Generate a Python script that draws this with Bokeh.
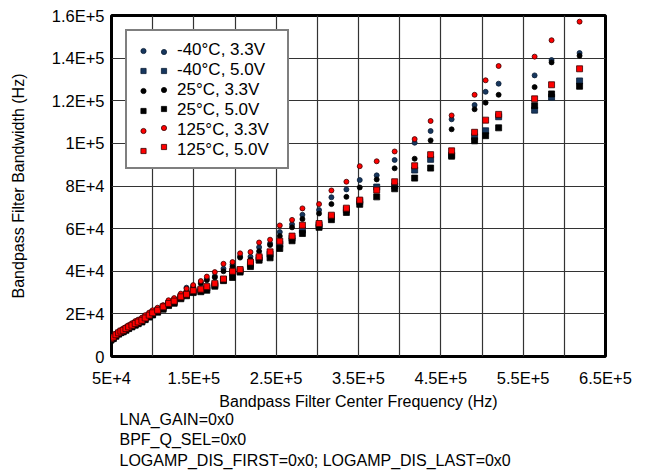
from bokeh.plotting import figure
from bokeh.models import Range1d, FixedTicker, Legend, LegendItem, Title, ColumnDataSource
from bokeh.embed import file_html
from bokeh.resources import INLINE

# ---------------- data (kHz) ----------------
freq_khz = [49.3, 52.1, 55.3, 58.6, 61.4, 64.2, 67.5, 70.8, 74.8, 78.8, 82.4, 86.9, 90.9, 95.8, 99.9,
            106.0, 112.7, 119.3, 126.1, 134.2, 141.1, 149.2, 158.5, 165.8, 175.5, 186.0, 197.0, 206.2,
            218.8, 229.3, 242.6, 254.4, 269.3, 281.9, 302.1, 317.1, 335.3, 351.5, 372.1, 393.9, 418.2,
            437.6, 463.1, 491.0, 504.4, 520.2, 563.9, 584.5, 618.5]

bw_m40_33 = [8.6, 9.3, 10.5, 11.4, 12.1, 12.8, 13.5, 14.4, 15.3, 16.2, 17.0, 18.0, 19.1, 20.1, 21.3,
             22.4, 23.9, 26.0, 26.9, 29.0, 32.3, 33.0, 34.9, 36.5, 37.7, 41.2, 43.1, 47.1, 46.8, 51.3,
             53.0, 58.4, 62.0, 66.5, 68.7, 74.7, 78.4, 82.8, 85.0, 92.2, 100.3, 105.8, 111.3, 118.0,
             124.2, 128.0, 131.9, 139.1, 142.4]
bw_m40_50 = [7.9, 8.6, 9.8, 10.7, 11.4, 11.9, 12.7, 13.4, 14.2, 15.0, 15.8, 16.6, 17.7, 18.9, 20.0,
             21.3, 22.7, 24.3, 25.5, 27.6, 29.0, 30.4, 31.1, 32.1, 33.7, 36.1, 39.3, 40.3, 43.3, 46.2,
             48.0, 52.7, 55.5, 59.3, 61.6, 65.6, 68.9, 72.7, 79.5, 80.0, 87.5, 92.5, 94.5, 103.1,
             105.9, 112.5, 115.6, 121.7, 129.3]
bw_25_33 = [8.4, 9.1, 10.2, 11.2, 11.9, 12.6, 13.3, 14.1, 15.0, 15.9, 16.6, 17.5, 18.6, 19.6, 20.8,
            22.0, 23.4, 25.5, 26.4, 28.5, 30.7, 32.3, 34.2, 35.8, 37.1, 40.0, 42.1, 46.4, 45.4, 49.4,
            52.3, 56.5, 60.6, 64.5, 67.1, 71.5, 74.9, 79.3, 83.1, 88.3, 92.8, 101.4, 106.6, 116.0,
            119.1, 122.8, 126.4, 138.0, 141.1]
bw_25_50 = [7.7, 8.4, 9.5, 10.5, 11.2, 11.6, 12.3, 13.1, 13.9, 14.7, 15.4, 16.2, 17.3, 18.5, 19.5,
            20.8, 22.2, 23.9, 25.0, 27.1, 28.5, 30.0, 30.4, 31.1, 33.0, 35.6, 37.1, 39.6, 42.2, 45.2,
            46.3, 50.7, 54.3, 57.7, 60.6, 64.2, 67.6, 71.4, 74.9, 78.7, 83.7, 88.4, 94.0, 101.2,
            103.6, 107.3, 117.7, 123.2, 126.8]
bw_125_33 = [8.8, 9.5, 10.7, 11.6, 12.3, 13.1, 13.8, 14.7, 15.6, 16.6, 17.3, 18.2, 19.4, 20.6, 21.7,
             22.9, 24.1, 26.4, 27.4, 29.5, 31.8, 33.5, 35.4, 37.5, 39.6, 43.5, 44.3, 48.4, 49.0, 53.5,
             54.8, 61.5, 64.1, 69.5, 71.5, 77.9, 82.0, 89.3, 91.6, 96.2, 102.0, 110.5, 113.1, 122.8,
             129.6, 136.3, 140.7, 148.4, 157.1]
bw_125_50 = [8.4, 9.1, 10.2, 11.1, 11.9, 12.3, 13.1, 13.9, 14.7, 15.5, 16.2, 17.0, 18.1, 19.4, 20.5,
             21.7, 23.3, 24.9, 26.0, 28.0, 29.2, 30.9, 31.6, 32.8, 34.3, 36.4, 40.0, 40.8, 44.3, 46.8,
             49.1, 54.1, 56.5, 61.6, 62.4, 66.3, 69.6, 73.4, 78.1, 82.0, 89.5, 94.7, 96.5, 105.2,
             110.9, 113.6, 120.9, 127.5, 135.0]

series_labels = ["-40°C, 3.3V", "-40°C, 5.0V", "25°C, 3.3V", "25°C, 5.0V", "125°C, 3.3V", "125°C, 5.0V"]

x_tick_values = [50000, 150000, 250000, 350000, 450000, 550000, 650000]
x_tick_labels = ["5E+4", "1.5E+5", "2.5E+5", "3.5E+5", "4.5E+5", "5.5E+5", "6.5E+5"]
x_minor_values = [100000, 200000, 300000, 400000, 500000, 600000]
y_tick_values = [0, 20000, 40000, 60000, 80000, 100000, 120000, 140000, 160000]
y_tick_labels = ["0", "2E+4", "4E+4", "6E+4", "8E+4", "1E+5", "1.2E+5", "1.4E+5", "1.6E+5"]

notes = ["LNA_GAIN=0x0", "BPF_Q_SEL=0x0", "LOGAMP_DIS_FIRST=0x0; LOGAMP_DIS_LAST=0x0"]

# ---------------- figure ----------------
FONT = "Liberation Sans"
BLUE = "#17375E"

src = ColumnDataSource(dict(
    f=[v * 1000 for v in freq_khz],
    m40_33=[v * 1000 for v in bw_m40_33],
    m40_50=[v * 1000 for v in bw_m40_50],
    t25_33=[v * 1000 for v in bw_25_33],
    t25_50=[v * 1000 for v in bw_25_50],
    t125_33=[v * 1000 for v in bw_125_33],
    t125_50=[v * 1000 for v in bw_125_50],
))

p = figure(width=647, height=470, output_backend="svg", toolbar_location=None,
           x_range=Range1d(5e4, 6.5e5), y_range=Range1d(0, 1.6e5),
           min_border_left=111, min_border_right=42, min_border_top=15, min_border_bottom=114)

p.outline_line_color = "black"
p.outline_line_width = 3
p.background_fill_color = "white"

p.xaxis.ticker = FixedTicker(ticks=x_tick_values, minor_ticks=x_minor_values)
p.xaxis.major_label_overrides = dict(zip(x_tick_values, x_tick_labels))
p.yaxis.ticker = FixedTicker(ticks=y_tick_values)
p.yaxis.major_label_overrides = dict(zip(y_tick_values, y_tick_labels))

for ax in (p.xaxis, p.yaxis):
    ax.axis_line_color = None
    ax.major_tick_line_color = None
    ax.minor_tick_line_color = None
    ax.major_tick_out = 0
    ax.major_tick_in = 0
    ax.minor_tick_out = 0
    ax.minor_tick_in = 0
    ax.major_label_text_font = FONT
    ax.major_label_text_font_size = "16.5px"
    ax.major_label_text_color = "black"
    ax.axis_label_text_font = FONT
    ax.axis_label_text_font_size = "16px"
    ax.axis_label_text_font_style = "normal"
    ax.axis_label_text_color = "black"

p.xaxis.axis_label = "Bandpass Filter Center Frequency (Hz)"
p.yaxis.axis_label = "Bandpass Filter Bandwidth (Hz)"
p.xaxis.major_label_standoff = 12
p.xaxis.axis_label_standoff = 3
p.yaxis.major_label_standoff = 7
p.yaxis.axis_label_standoff = 22

for g in (p.xgrid, p.ygrid):
    g.grid_line_color = "#333333"
    g.grid_line_width = 1.2
p.xgrid.minor_grid_line_color = "#333333"
p.xgrid.minor_grid_line_width = 1.2

styles = [
    ("m40_33", "circle", 5, BLUE, "#0b1e36"),
    ("m40_50", "square", 6, BLUE, "#0b1e36"),
    ("t25_33", "circle", 5, "black", "black"),
    ("t25_50", "square", 6, "black", "black"),
    ("t125_33", "circle", 5, "#ff0000", "#3a0000"),
    ("t125_50", "square", 6, "#ff0000", "#3a0000"),
]
renderers = []
for col, marker, size, fill, line in styles:
    r = p.scatter(x="f", y=col, source=src, marker=marker, size=size,
                  fill_color=fill, line_color=line, line_width=0.8)
    renderers.append(r)

common = dict(location="top_left", margin=14, padding=11, spacing=0,
              glyph_height=13, label_height=19,
              label_text_font=FONT, label_text_font_size="17px", label_text_color="black")

# box legend: frame, white background and second marker column
legC = Legend(items=[LegendItem(label=" ", renderers=[r]) for r in renderers],
              glyph_width=51, label_standoff=67,
              border_line_color="black", border_line_width=2,
              background_fill_color="white", background_fill_alpha=1.0, **common)
# text legend: first marker column and the labels (transparent box)
legA = Legend(items=[LegendItem(label=lab, renderers=[r]) for lab, r in zip(series_labels, renderers)],
              glyph_width=14, label_standoff=27,
              border_line_alpha=0, background_fill_alpha=0, **common)
p.add_layout(legC, "center")
p.add_layout(legA, "center")

note_standoffs = [-7, 8, -3]
for t, so in zip(notes, note_standoffs):
    p.add_layout(Title(text=t, align="left", offset=8, standoff=so,
                       text_font=FONT, text_font_size="16px", text_font_style="normal",
                       text_color="black"), "below")

open("out.html", "w").write(file_html(p, INLINE))
